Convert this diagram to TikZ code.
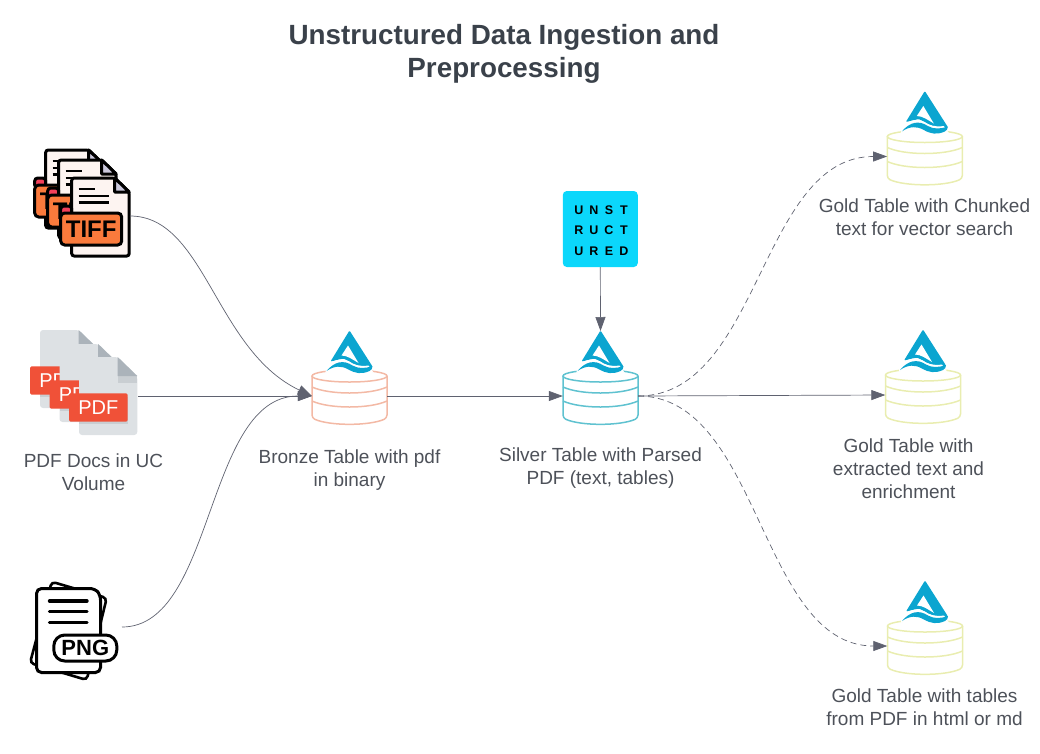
\documentclass[tikz,border=0pt]{standalone}
\usepackage{fontspec}
\setmainfont{Liberation Sans}
\usetikzlibrary{arrows.meta}

\definecolor{inkgrey}{HTML}{4D5159}
\definecolor{titlegrey}{HTML}{3A414A}
\definecolor{wiregrey}{HTML}{5F6270}
\definecolor{lakeblue}{HTML}{0BA5D0}
\definecolor{bronzeline}{HTML}{F3B9A5}
\definecolor{silverline}{HTML}{5FC2D0}
\definecolor{goldline}{HTML}{E9EDB0}
\definecolor{tifforange}{HTML}{FA7A3C}
\definecolor{tiffred}{HTML}{F2405A}
\definecolor{tiffpage}{HTML}{FDF4F1}
\definecolor{tifffold}{HTML}{CBC8DC}
\definecolor{pdfpage}{HTML}{DDE1E4}
\definecolor{pdffold}{HTML}{ABB3BA}
\definecolor{pdfshade}{HTML}{C9CED2}
\definecolor{pdfred}{HTML}{F05138}
\definecolor{logocyan}{HTML}{0BD7FB}

\newcommand{\logocell}[1]{\makebox[15pt]{#1}}

\tikzset{
  wire/.style={draw=wiregrey, line width=0.7pt, -{Triangle[length=14pt, width=10pt, fill=wiregrey]}},
  dashwire/.style={wire, dash pattern=on 6pt off 4pt},
  caption/.style={text=inkgrey, font=\fontsize{19}{23}\selectfont, align=center},
  tablebox/.style={minimum width=75pt, minimum height=52pt, inner sep=0pt},
  laketable/.pic={
    \draw[#1, line width=1.5pt] (0,-20) ellipse [x radius=37.5pt, y radius=6pt];
    \draw[#1, line width=1.5pt, rounded corners=3pt] (-37.5,-20) -- (-37.5,22) .. controls (-20,30) and (20,30) .. (37.5,22) -- (37.5,-20);
    \draw[#1, line width=1.5pt] (-37.5,-9) .. controls (-20,-1) and (20,-1) .. (37.5,-9);
    \draw[#1, line width=1.5pt] (-37.5,5) .. controls (-20,13) and (20,13) .. (37.5,5);
    \coordinate (-apex) at (0,-65);
    \begin{scope}[shift={(0,-65.5)}]
      \fill[lakeblue, rounded corners=1pt] (0,0) -- (23,36) -- (21,39) -- (5,34) -- (-6,28) -- (-19,31) -- cycle;
      \fill[white] (-1.5,15) -- (-8,25) .. controls (-2,25) and (3,29) .. (9,32.5) -- cycle;
      \fill[white] (-24,37) .. controls (-14,27) and (-5,27) .. (3,33) .. controls (9,36) and (16,35.5) .. (19,35) -- (24,42) -- (-24,42) -- cycle;
      \fill[lakeblue] (-23,40.5) .. controls (-15,31) and (-6,29) .. (3,35) .. controls (9,38.5) and (16,38) .. (23,35.5) .. controls (23,38) and (22,39.5) .. (20,40.5) .. controls (12,44) and (6,43) .. (-1,39) .. controls (-8,35) and (-15,35) .. (-23,40.5) -- cycle;
    \end{scope}
  },
  tiffdoc/.pic={
    \draw[black, line width=3pt, fill=tiffpage, rounded corners=2.5pt] (0,0) -- (43,0) -- (57.5,14) -- (57.5,78) -- (0,78) -- cycle;
    \draw[black, line width=3pt, fill=tifffold, line join=round] (43,0) -- (43,14) -- (57.5,14) -- cycle;
    \draw[black, line width=2.4pt] (7,11) -- (23,11) (7,18) -- (37,18) (7,24.5) -- (37,24.5);
    \draw[black, line width=3pt, fill=tiffred, rounded corners=3pt] (-11,28) -- (0,28) -- (0,38) -- (-11,38) -- cycle;
    \draw[black, line width=3pt, fill=tifforange, rounded corners=4pt] (-11,35) rectangle (50,67);
    \node[inner sep=0pt, font=\fontsize{24}{24}\selectfont\bfseries] (-word) at (19.5,51) {TIFF};
  },
  pdfdoc/.pic={
    \fill[pdfpage, rounded corners=3pt] (0,0) -- (38.7,0) -- (58.3,19) -- (58.3,78) -- (0,78) -- cycle;
    \fill[pdfshade] (38.7,19) -- (58.3,19) -- (58.3,26) -- (38.7,26) -- cycle;
    \fill[pdffold] (38.7,0) -- (58.3,19) -- (38.7,19) -- cycle;
    \fill[pdfshade] (0,40) rectangle (49,67);
    \fill[pdfred, rounded corners=1.5pt] (-10,36.3) rectangle (48.7,64.7);
    \node[text=white, inner sep=0pt, font=\fontsize{20}{20}\selectfont] (-word) at (19.3,50.8) {PDF};
  }
}

\begin{document}
\begin{tikzpicture}[x=1pt, y=-1pt]
  \useasboundingbox (0,0) rectangle (1040,753);

  \node[text=titlegrey, align=center, font=\fontsize{27.8}{33}\selectfont\bfseries] (title) at (504,54) {Unstructured Data Ingestion and\\Preprocessing};

  % source files
  \pic (tiffback) at (45.7,150) {tiffdoc};
  \pic (tiffmid) at (58.7,160) {tiffdoc};
  \pic (tifffront) at (71.7,178) {tiffdoc};
  \coordinate (tiffout) at (130,216);

  \pic (pdfback) at (40,330) {pdfdoc};
  \pic (pdfmid) at (59.5,344) {pdfdoc};
  \pic (pdffront) at (79,357) {pdfdoc};
  \coordinate (pdfout) at (138,396);
  \node[caption] (pdflabel) at (93.5,472.5) {PDF Docs in UC\\Volume};

  \draw[black, line width=2.6pt, fill=white, rounded corners=4pt] (51.7,581.7) -- (106.7,598) -- (86.7,680) -- (30,663) -- cycle;
  \draw[black, line width=3pt, fill=white, rounded corners=5pt] (36.5,588.5) -- (95,588.5) -- (100.5,595) -- (100.5,672.5) -- (36.5,672.5) -- cycle;
  \draw[black, line width=3.4pt, line cap=round] (49.5,601) -- (87,601);
  \draw[black, line width=3.4pt, line cap=round] (49.5,611.7) -- (87,611.7);
  \draw[black, line width=3.4pt, line cap=round] (49.5,622.7) -- (87,622.7);
  \node[draw=black, line width=3pt, fill=white, rounded corners=11pt, minimum width=63pt, minimum height=26pt, inner sep=0pt, font=\fontsize{22}{22}\selectfont\bfseries] (pngtag) at (85.3,648) {PNG};
  \coordinate (pngout) at (122,627);

  % tables
  \node[tablebox] (bronze) at (349.5,396) {};
  \pic (bronzepic) at (bronze) {laketable=bronzeline};
  \node[caption] (bronzelabel) at (349.5,470.5) {Bronze Table with pdf\\in binary};

  \node[tablebox] (silver) at (600.5,396) {};
  \pic (silverpic) at (silver) {laketable=silverline};
  \node[caption] (silverlabel) at (600.5,468.5) {Silver Table with Parsed\\PDF (text, tables)};

  \node[fill=logocyan, rounded corners=4pt, minimum width=75pt, minimum height=76pt, inner sep=0pt] (unstructured) at (600.3,229) {};
  \node[inner sep=0pt, align=center, font=\fontsize{12.5}{20.5}\selectfont\bfseries] (logotext) at (601.5,230.5) {\logocell{U}\logocell{N}\logocell{S}\logocell{T}\\\logocell{R}\logocell{U}\logocell{C}\logocell{T}\\\logocell{U}\logocell{R}\logocell{E}\logocell{D}};

  \node[tablebox] (goldtop) at (924.8,156.5) {};
  \pic (goldtoppic) at (goldtop) {laketable=goldline};
  \node[caption] (goldtoplabel) at (924.5,217.5) {Gold Table with Chunked\\text for vector search};

  \node[tablebox] (goldmid) at (923,395) {};
  \pic (goldmidpic) at (goldmid) {laketable=goldline};
  \node[caption] (goldmidlabel) at (908.5,469) {Gold Table with\\extracted text and\\enrichment};

  \node[tablebox] (goldlow) at (925,646) {};
  \pic (goldlowpic) at (goldlow) {laketable=goldline};
  \node[caption] (goldlowlabel) at (924.5,707.5) {Gold Table with tables\\from PDF in html or md};

  % connectors
  \draw[wire] (tiffout) .. controls (205,216) and (215,350) .. (bronze.west);
  \draw[wire] (pdfout) -- (bronze.west);
  \draw[wire] (pngout) .. controls (215,627) and (205,396) .. (bronze.west);
  \draw[wire] (bronze.east) -- (silver.west);
  \draw[wire] (unstructured.south) -- (silverpic-apex);
  \draw[dashwire] (silver.east) .. controls (760,396) and (760,156.5) .. (goldtop.west);
  \draw[wire] (silver.east) -- (goldmid.west);
  \draw[dashwire] (silver.east) .. controls (760,396) and (760,646) .. (goldlow.west);
\end{tikzpicture}
\end{document}
